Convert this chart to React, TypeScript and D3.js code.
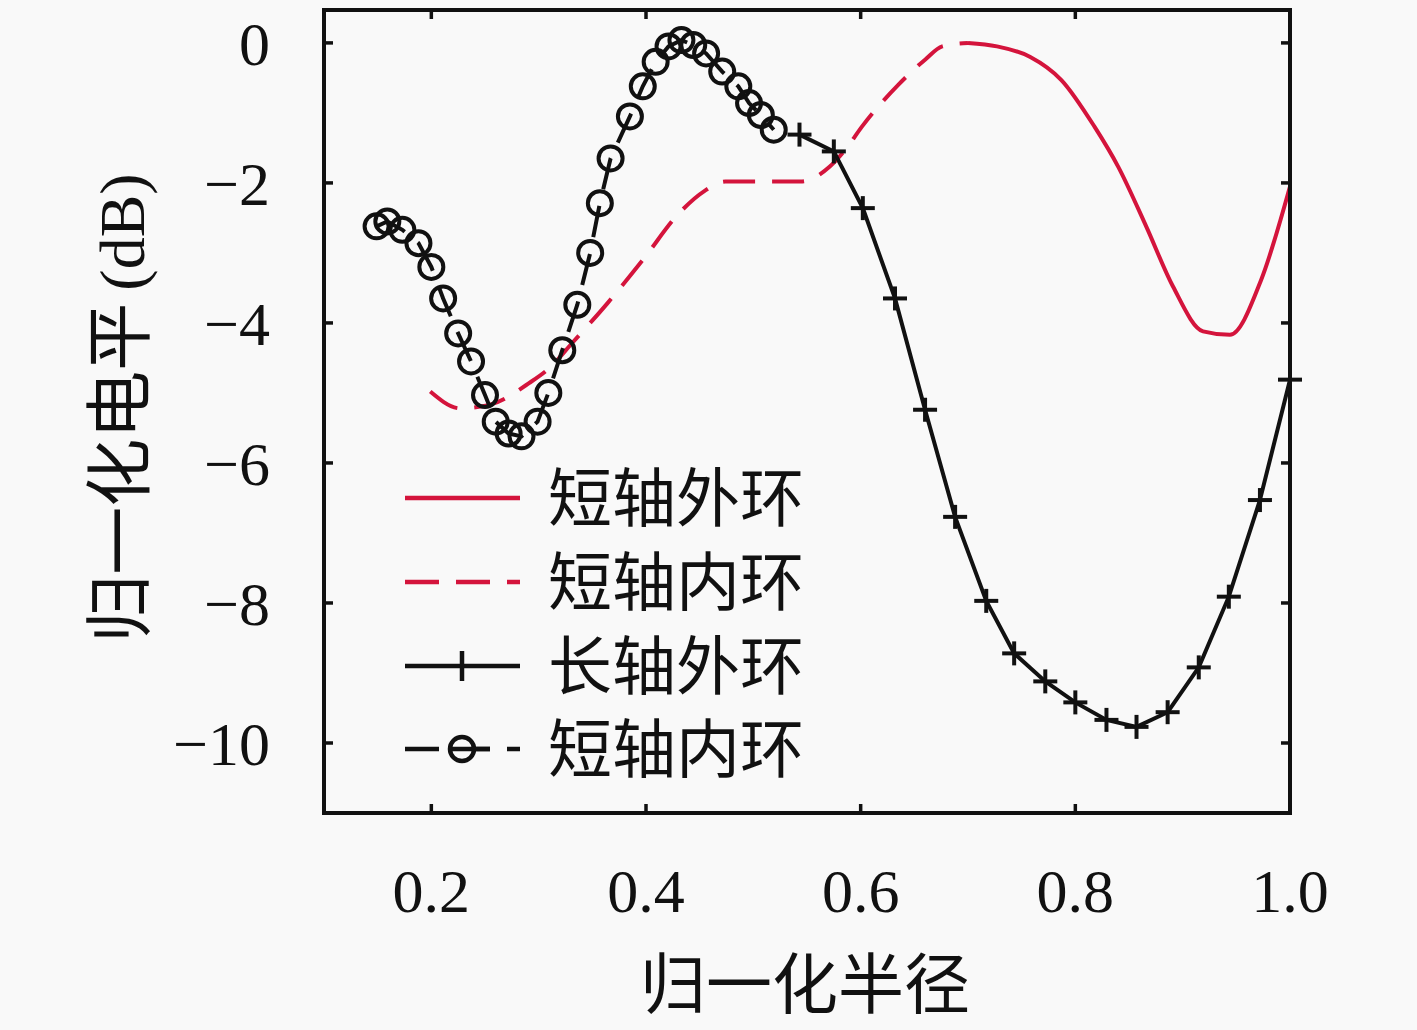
import React from 'react';
import * as d3 from 'd3';

// 短轴外环 (red solid)
const outerShortX = [0.70, 0.727, 0.758, 0.787, 0.818, 0.840, 0.866, 0.891, 0.919, 0.944, 0.973, 1.0];
const outerShortY = [0.0, -0.05, -0.20, -0.53, -1.20, -1.77, -2.62, -3.48, -4.12, -4.17, -3.39, -2.05];

// 短轴内环 (red dashed)
const innerShortX = [0.199, 0.227, 0.254, 0.291, 0.311, 0.331, 0.364, 0.397, 0.431, 0.454, 0.474, 0.511, 0.544, 0.571, 0.587, 0.601, 0.635, 0.660, 0.676, 0.70];
const innerShortY = [-4.98, -5.22, -5.17, -4.86, -4.63, -4.29, -3.72, -3.10, -2.43, -2.12, -1.98, -1.98, -1.98, -1.77, -1.50, -1.20, -0.60, -0.24, -0.05, 0.0];

// 长轴外环 (black, plus markers)
const outerLongX = [0.543, 0.575, 0.602, 0.632, 0.660, 0.688, 0.717, 0.743, 0.772, 0.800, 0.829, 0.857, 0.886, 0.915, 0.943, 0.972, 1.0];
const outerLongY = [-1.31, -1.55, -2.36, -3.65, -5.24, -6.77, -7.97, -8.72, -9.12, -9.42, -9.67, -9.77, -9.56, -8.92, -7.91, -6.53, -4.81];

// 短轴内环 (black, circle markers)
const innerCircX = [0.149, 0.159, 0.173, 0.188, 0.200, 0.211, 0.225, 0.237, 0.250, 0.260, 0.272, 0.284, 0.299, 0.309, 0.322, 0.336, 0.348, 0.357, 0.367, 0.385, 0.397, 0.409, 0.421, 0.433, 0.444, 0.456, 0.471, 0.486, 0.496, 0.507, 0.519];
const innerCircY = [-2.62, -2.55, -2.67, -2.86, -3.20, -3.65, -4.15, -4.55, -5.03, -5.41, -5.58, -5.62, -5.41, -5.00, -4.39, -3.74, -3.00, -2.29, -1.65, -1.05, -0.62, -0.27, -0.05, 0.04, -0.03, -0.15, -0.41, -0.62, -0.86, -1.03, -1.24];

const xTicks = [0.2, 0.4, 0.6, 0.8, 1.0];
const yTicks = [0, -2, -4, -6, -8, -10];
const legendLabels = ['短轴外环', '短轴内环', '长轴外环', '短轴内环'];

const W = 1417;
const H = 1030;
const RED = '#d4143c';
const INK = '#111';
const BG = '#f9f9f9';
const SERIF = '"Liberation Serif", "DejaVu Serif", serif';
const CJK = '"Noto Sans CJK SC", sans-serif';
const SW = 4;

const zip = (xs: number[], ys: number[]) => xs.map((x, i) => [x, ys[i]] as [number, number]);

export default function App() {
  const x = d3.scaleLinear().domain([0.1, 1.0]).range([324, 1290]);
  const y = d3.scaleLinear().domain([-11, 0.47]).range([813, 10]);

  const line = d3.line<[number, number]>().x(d => x(d[0])).y(d => y(d[1]));
  const smooth = d3.line<[number, number]>().x(d => x(d[0])).y(d => y(d[1])).curve(d3.curveMonotoneX);

  const outerShort = zip(outerShortX, outerShortY);
  const innerShort = zip(innerShortX, innerShortY);
  const outerLong = zip(outerLongX, outerLongY);
  const innerCirc = zip(innerCircX, innerCircY);

  const [x0, x1] = x.range();
  const [y0, y1] = y.range();
  const legendY = [498, 582, 666, 749];

  return (
    <svg width={W} height={H} style={{ position: 'absolute', left: 0, top: 0, background: BG }}>
      <rect width={W} height={H} fill={BG} />

      {/* curves */}
      <path d={smooth(innerShort) || ''} fill="none" stroke={RED} strokeWidth={SW} strokeDasharray="32,17" />
      <path d={smooth(outerShort) || ''} fill="none" stroke={RED} strokeWidth={SW} />
      <path d={line(outerLong) || ''} fill="none" stroke={INK} strokeWidth={SW} />
      <path d={line(innerCirc) || ''} fill="none" stroke={INK} strokeWidth={SW} strokeDasharray="32,17" />

      {outerLong.map((d, i) => (
        <g key={'p' + i} transform={`translate(${x(d[0])},${y(d[1])})`} stroke={INK} strokeWidth={SW}>
          <line x1={-12} x2={12} y1={0} y2={0} />
          <line x1={0} x2={0} y1={-12} y2={12} />
        </g>
      ))}
      {innerCirc.map((d, i) => (
        <circle key={'c' + i} cx={x(d[0])} cy={y(d[1])} r={12} fill="none" stroke={INK} strokeWidth={SW} />
      ))}

      {/* frame and ticks */}
      <rect x={x0} y={y1} width={x1 - x0} height={y0 - y1} fill="none" stroke={INK} strokeWidth={4} />
      {xTicks.filter(t => t < 1).map(t => (
        <g key={'xt' + t} stroke={INK} strokeWidth={3.5}>
          <line x1={x(t)} x2={x(t)} y1={y0} y2={y0 - 9} />
          <line x1={x(t)} x2={x(t)} y1={y1} y2={y1 + 9} />
        </g>
      ))}
      {yTicks.map(t => (
        <g key={'yt' + t} stroke={INK} strokeWidth={3.5}>
          <line x1={x0} x2={x0 + 9} y1={y(t)} y2={y(t)} />
          <line x1={x1} x2={x1 - 9} y1={y(t)} y2={y(t)} />
        </g>
      ))}
      {xTicks.map(t => (
        <text key={'xl' + t} x={x(t)} y={912} textAnchor="middle" fontFamily={SERIF} fontSize={62} fill={INK}>
          {t.toFixed(1)}
        </text>
      ))}
      {yTicks.map(t => (
        <text key={'yl' + t} x={270} y={y(t)} dy="0.35em" textAnchor="end" fontFamily={SERIF} fontSize={62} fill={INK}>
          {t < 0 ? '\u2212' + Math.abs(t) : String(t)}
        </text>
      ))}

      {/* axis titles */}
      <text x={805} y={1008} textAnchor="middle" fontFamily={CJK} fontSize={66} fill={INK}>归一化半径</text>
      <text transform="translate(144,408) rotate(-90)" textAnchor="middle" fill={INK}>
        <tspan fontFamily={CJK} fontSize={68}>归一化电平</tspan>
        <tspan fontFamily={SERIF} fontSize={64} dx={12}>(dB)</tspan>
      </text>

      {/* legend */}
      <g>
        <line x1={405} x2={520} y1={legendY[0]} y2={legendY[0]} stroke={RED} strokeWidth={4.5} />
        <line x1={405} x2={520} y1={legendY[1]} y2={legendY[1]} stroke={RED} strokeWidth={4.5} strokeDasharray="34,17" />
        <line x1={405} x2={520} y1={legendY[2]} y2={legendY[2]} stroke={INK} strokeWidth={4.5} />
        <line x1={462} x2={462} y1={legendY[2] - 15} y2={legendY[2] + 15} stroke={INK} strokeWidth={4.5} />
        <line x1={405} x2={520} y1={legendY[3]} y2={legendY[3]} stroke={INK} strokeWidth={4.5} strokeDasharray="34,17" />
        <circle cx={462} cy={legendY[3]} r={12} fill={BG} stroke={INK} strokeWidth={4.5} />
        <line x1={450} x2={490} y1={legendY[3]} y2={legendY[3]} stroke={INK} strokeWidth={4.5} />
        {legendLabels.map((l, i) => (
          <text key={'lg' + i} x={548} y={legendY[i]} dy="0.36em" fontFamily={CJK} fontSize={64} fill={INK}>
            {l}
          </text>
        ))}
      </g>
    </svg>
  );
}
